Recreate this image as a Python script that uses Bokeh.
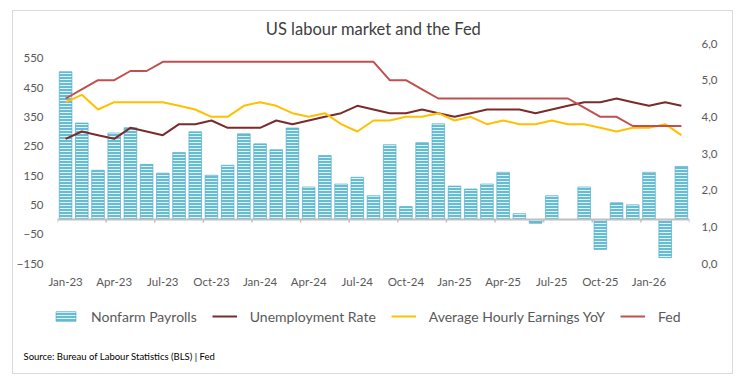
from bokeh.plotting import figure
from bokeh.layouts import column
from bokeh.models import (ColumnDataSource, Range1d, LinearAxis, FixedTicker, Span, Label,
                          Legend, LegendItem, CustomJSTickFormatter)
from bokeh.embed import file_html
from bokeh.resources import INLINE

months = ["Jan-23", "Feb-23", "Mar-23", "Apr-23", "May-23", "Jun-23", "Jul-23", "Aug-23", "Sep-23",
          "Oct-23", "Nov-23", "Dec-23", "Jan-24", "Feb-24", "Mar-24", "Apr-24", "May-24", "Jun-24",
          "Jul-24", "Aug-24", "Sep-24", "Oct-24", "Nov-24", "Dec-24", "Jan-25", "Feb-25", "Mar-25",
          "Apr-25", "May-25", "Jun-25", "Jul-25", "Aug-25", "Sep-25", "Oct-25", "Nov-25", "Dec-25",
          "Jan-26", "Feb-26", "Mar-26"]

nonfarm_payrolls = [504, 329, 168, 295, 313, 188, 158, 228, 299, 151, 185, 292,
                    258, 238, 312, 111, 218, 121, 144, 81, 255, 44, 262, 326,
                    114, 104, 121, 161, 20, -13, 81, float("nan"), 111, -102, 57, 50,
                    161, -130, 181]

unemployment_rate = [3.4, 3.6, 3.5, 3.4, 3.7, 3.6, 3.5, 3.8, 3.8, 3.9, 3.7, 3.7,
                     3.7, 3.9, 3.8, 3.9, 4.0, 4.1, 4.3, 4.2, 4.1, 4.1, 4.2, 4.1,
                     4.0, 4.1, 4.2, 4.2, 4.2, 4.1, 4.2, 4.3, 4.4, 4.4, 4.5, 4.4,
                     4.3, 4.4, 4.3]

avg_hourly_earnings = [4.4, 4.6, 4.2, 4.4, 4.4, 4.4, 4.4, 4.3, 4.2, 4.0, 4.0, 4.3,
                       4.4, 4.3, 4.1, 4.0, 4.1, 3.8, 3.6, 3.9, 3.9, 4.0, 4.0, 4.1,
                       3.9, 4.0, 3.8, 3.9, 3.8, 3.8, 3.9, 3.8, 3.8, 3.7, 3.6, 3.7,
                       3.7, 3.8, 3.5]

fed_rate = [4.5, 4.75, 5.0, 5.0, 5.25, 5.25, 5.5, 5.5, 5.5, 5.5, 5.5, 5.5,
            5.5, 5.5, 5.5, 5.5, 5.5, 5.5, 5.5, 5.5, 5.0, 5.0, 4.75, 4.5,
            4.5, 4.5, 4.5, 4.5, 4.5, 4.5, 4.5, 4.5, 4.25, 4.0, 4.0, 3.75,
            3.75, 3.75, 3.75]

series_names = ["Nonfarm Payrolls", "Unemployment Rate", "Average Hourly Earnings YoY", "Fed"]
left_ticks = [-150, -50, 50, 150, 250, 350, 450, 550]
right_ticks = [0, 1, 2, 3, 4, 5, 6]

FONT = "Lato"
GREY = "#595959"
BAR_STYLE = dict(fill_color="#66bcd3", line_color="#4aa9c4", line_width=0.6,
                 hatch_pattern="horizontal_line", hatch_color="#e2f3f8",
                 hatch_scale=3, hatch_weight=1)
UR_COL, AHE_COL, FED_COL = "#7a2b2b", "#ffc000", "#c0504d"

n = len(months)
idx = list(range(n))
src = ColumnDataSource(dict(x=idx, nfp=nonfarm_payrolls, ur=unemployment_rate,
                            ahe=avg_hourly_earnings, fed=fed_rate))

p = figure(width=719, height=279, output_backend="svg", toolbar_location=None,
           x_range=Range1d(-0.5, n - 0.5), y_range=Range1d(-150, 600),
           min_border_left=42, min_border_right=43, min_border_top=32, min_border_bottom=24)
p.extra_y_ranges = {"right": Range1d(0, 6)}
p.xgrid.visible = False
p.ygrid.visible = False
p.outline_line_color = None
p.background_fill_color = "white"

p.title.text = "US labour market and the Fed"
p.title.align = "center"
p.title.text_font = FONT
p.title.text_font_size = "16.5px"
p.title.text_font_style = "normal"
p.title.text_color = "#404040"
p.title.standoff = 10

# left axis
ya = p.yaxis[0]
ya.ticker = FixedTicker(ticks=left_ticks)
ya.axis_line_color = None
ya.major_tick_line_color = None
ya.minor_tick_line_color = None
ya.major_label_text_font = FONT
ya.major_label_text_font_size = "11.5px"
ya.major_label_text_color = GREY
ya.major_label_standoff = 8

# right axis
ra = LinearAxis(y_range_name="right", ticker=FixedTicker(ticks=right_ticks),
                formatter=CustomJSTickFormatter(code="return tick.toFixed(1).replace('.', ',');"))
ra.axis_line_color = None
ra.major_tick_line_color = None
ra.minor_tick_line_color = None
ra.major_label_text_font = FONT
ra.major_label_text_font_size = "11.5px"
ra.major_label_text_color = GREY
ra.major_label_standoff = 6
p.add_layout(ra, "right")

# x axis
xa = p.xaxis[0]
xa.ticker = FixedTicker(ticks=list(range(0, n, 3)))
xa.formatter = CustomJSTickFormatter(args=dict(labels=months),
                                     code="return labels[Math.round(tick)];")
xa.axis_line_color = None
xa.major_tick_line_color = None
xa.minor_tick_line_color = None
xa.major_label_text_font = FONT
xa.major_label_text_font_size = "11.5px"
xa.major_label_text_color = GREY
xa.major_label_standoff = 5

# bars
p.vbar(x="x", top="nfp", bottom=0, width=0.78, source=src, **BAR_STYLE)

# zero line and ticks
p.add_layout(Span(location=0, dimension="width", line_color="#bfbfbf", line_width=2))
bounds = [i - 0.5 for i in range(0, n + 1, 3)]
p.segment(x0=bounds, y0=[0] * len(bounds), x1=bounds, y1=[-10] * len(bounds),
          line_color="#bfbfbf", line_width=1.5)

p.line("x", "ur", source=src, y_range_name="right", line_color=UR_COL, line_width=2)
p.line("x", "ahe", source=src, y_range_name="right", line_color=AHE_COL, line_width=2)
p.line("x", "fed", source=src, y_range_name="right", line_color=FED_COL, line_width=2)

# footer figure: legend and source (its ranges keep the series out of view)
f = figure(width=719, height=83, output_backend="svg", toolbar_location=None,
           x_range=Range1d(-0.5, n - 0.5), y_range=Range1d(1000, 1001),
           x_axis_location=None, y_axis_location=None,
           min_border_left=0, min_border_right=0, min_border_top=0, min_border_bottom=0)
if "frame_align" in f.properties():
    f.frame_align = False
    p.frame_align = False
f.xgrid.visible = False
f.ygrid.visible = False
f.outline_line_color = None
f.background_fill_color = "white"

lb = f.vbar(x="x", top="nfp", bottom=0, width=0.78, source=src, **BAR_STYLE)
l1 = f.line("x", "ur", source=src, line_color=UR_COL, line_width=2)
l2 = f.line("x", "ahe", source=src, line_color=AHE_COL, line_width=2)
l3 = f.line("x", "fed", source=src, line_color=FED_COL, line_width=2)

legend = Legend(items=[LegendItem(label=series_names[0], renderers=[lb]),
                       LegendItem(label=series_names[1], renderers=[l1]),
                       LegendItem(label=series_names[2], renderers=[l2]),
                       LegendItem(label=series_names[3], renderers=[l3])],
                location=(40, 47), orientation="horizontal", padding=0, margin=0,
                spacing=15, border_line_color=None, background_fill_alpha=0,
                glyph_width=25, glyph_height=12, label_standoff=13,
                label_text_font=FONT, label_text_font_size="14px", label_text_color=GREY,
                label_height=20)
f.add_layout(legend)

f.add_layout(Label(x=10, y=17, x_units="screen", y_units="screen",
                   text="Source: Bureau of Labour Statistics (BLS) | Fed", text_align="left",
                   text_baseline="middle", text_font=FONT, text_font_size="9.5px",
                   text_color="#000000"))

layout = column(p, f, spacing=0)
layout.styles = {"border": "1px solid #d9d9d9", "margin-left": "12px", "margin-top": "10px"}

open("out.html", "w").write(file_html(layout, INLINE))
